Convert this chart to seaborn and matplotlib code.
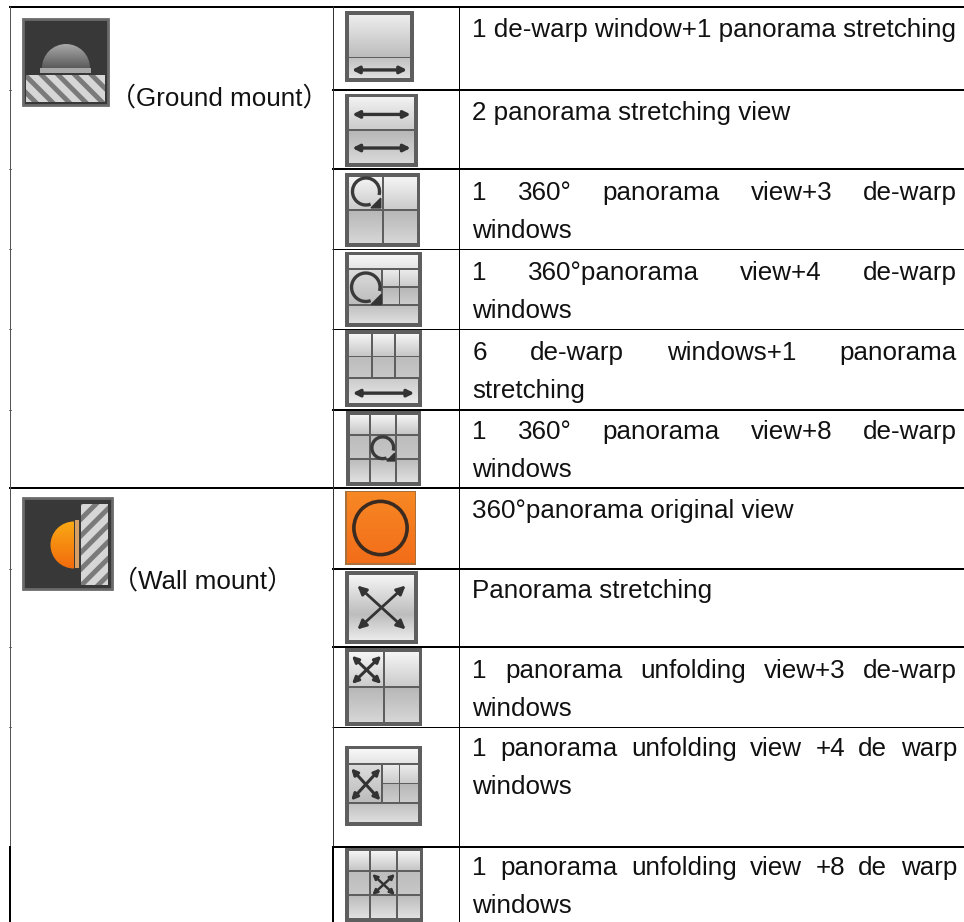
import numpy as np
import matplotlib
matplotlib.use("Agg")
import matplotlib.pyplot as plt
import matplotlib.patches as mp
import seaborn as sns

sns.set_theme(style="white")
plt.rcParams["font.family"] = ["Liberation Sans", "Noto Sans CJK SC"]
plt.rcParams["hatch.linewidth"] = 3.5

# table text
mount_labels = ["（Ground mount）", "（Wall mount）"]
view_lines = [
    ["1 de-warp window+1 panorama stretching"],
    ["2 panorama stretching view"],
    ["1 360° panorama view+3 de-warp", "windows"],
    ["1 360°panorama view+4 de-warp", "windows"],
    ["6 de-warp windows+1 panorama", "stretching"],
    ["1 360° panorama view+8 de-warp", "windows"],
    ["360°panorama original view"],
    ["Panorama stretching"],
    ["1 panorama unfolding view+3 de-warp", "windows"],
    ["1 panorama unfolding view +4 de warp", "windows"],
    ["1 panorama unfolding view +8 de warp", "windows"],
]
view_icons = ["hs", "ss", "q_c", "s_c", "g6", "g9_c", "o", "x", "q_x", "s_x", "g9_x"]

# layout, in pixels of the page
row_lines = [90, 169, 249, 329, 409, 487, 568, 646, 726, 846]
row_widths = [2, 2, 1, 1, 2, 2, 2, 2, 1, 2]
baselines = [37, 120, 200, 280, 360, 439, 518, 598, 678, 756, 875]
icon_boxes = [
    (345, 11, 414, 82), (345, 94, 418, 167), (345, 173, 420, 247),
    (345, 252, 422, 327), (345, 330, 422, 407), (346, 411, 421, 486),
    (345, 491, 416, 565), (345, 571, 418, 644), (345, 648, 422, 726),
    (345, 746, 422, 826), (345, 847, 423, 922),
]
FS = 18.75
INK = "#111111"

fig = plt.figure(figsize=(9.64, 9.22), dpi=100)
ax = fig.add_axes([0, 0, 1, 1])
ax.set_axis_off()
rend = fig.canvas.get_renderer()


def rule(x0, y0, x1, y1, px=1, color="#000000"):
    sns.lineplot(x=[x0, x1], y=[y0, y1], estimator=None, sort=False, ax=ax,
                 color=color, linewidth=px * 0.72, solid_capstyle="butt", legend=False)


def grad(x0, y0, x1, y1, top, bottom, clip=None, z=2):
    # vertical gradient, top and bottom are rgb or a gray level
    top = np.atleast_1d(top)
    bottom = np.atleast_1d(bottom)
    if top.size == 1:
        top = np.repeat(top, 3)
        bottom = np.repeat(bottom, 3)
    img = np.stack([np.linspace(top, bottom, 32)], axis=1)
    im = ax.imshow(img, extent=(x0, x1, y1, y0), aspect="auto", zorder=z,
                   interpolation="bilinear", vmin=0, vmax=1)
    if clip is not None:
        ax.add_patch(clip)
        im.set_clip_path(clip)
    return im


def arrow2(xa, ya, xb, yb, lw=2.4, ms=10, color="#333333", z=4):
    ax.annotate("", xy=(xb, yb), xytext=(xa, ya), zorder=z,
                arrowprops=dict(arrowstyle="<|-|>", color=color, lw=lw, mutation_scale=ms,
                                shrinkA=0, shrinkB=0))


def spin(cx, cy, r, lw=2.4):
    ax.add_patch(mp.Arc((cx, cy), 2 * r, 2 * r, theta1=70, theta2=375, color="#3a3a3a", lw=lw, zorder=4))
    c, s = np.cos(np.radians(50)), np.sin(np.radians(50))
    hx, hy = cx + r * c, cy + r * s
    d = r * 0.45
    ax.add_patch(mp.Polygon([(hx + d, hy + d), (hx - d * 0.6, hy + d), (hx + d, hy - d * 0.6)],
                            color="#333333", zorder=4))


def cross(x0, y0, x1, y1, lw=2.2, ms=9):
    arrow2(x0, y0, x1, y1, lw=lw, ms=ms)
    arrow2(x0, y1, x1, y0, lw=lw, ms=ms)


def tile(box, l, a, r, b, top=None, bot=None):
    # one gray tile on the dark backing of the icon, fractions of the inner area
    x0, y0, x1, y1 = box
    w, h = x1 - x0, y1 - y0
    inner = 4.0
    gap = 1.1
    if top is None:
        top = 0.96 if a < 0.05 else 0.74
    if bot is None:
        bot = 0.78 if b < 0.9 else 0.88
    grad(x0 + inner + l * (w - 2 * inner) + (gap if l > 0 else 0),
         y0 + inner + a * (h - 2 * inner) + (gap if a > 0 else 0),
         x0 + inner + r * (w - 2 * inner) - (gap if r < 1 else 0),
         y0 + inner + b * (h - 2 * inner) - (gap if b < 1 else 0), top, bot)


def grid(box, xs, ys):
    for a, b in zip(ys[:-1], ys[1:]):
        for l, r in zip(xs[:-1], xs[1:]):
            tile(box, l, a, r, b)


def draw_icon(kind, box):
    x0, y0, x1, y1 = box
    w, h = x1 - x0, y1 - y0
    fx = lambda f: x0 + f * w
    fy = lambda f: y0 + f * h
    base, _, deco = kind.partition("_")
    if kind == "o":
        ax.add_patch(mp.Rectangle((x0, y0), w, h, fc="#a8703a", ec="none", zorder=1))
        grad(x0 + 1.5, y0 + 1.5, x1 - 1.5, y1 - 1.5, (0.97, 0.53, 0.14), (0.95, 0.43, 0.10))
        ax.add_patch(mp.Circle((fx(.5), fy(.5)), w * 0.375, fill=False, ec="#3a2a20", lw=2.6, zorder=4))
        return
    ax.add_patch(mp.Rectangle((x0, y0), w, h, fc="#5e5e5e", ec="none", zorder=1))
    if kind == "hs":
        tile(box, 0, 0, 1, .68, 0.93, 0.74)
        tile(box, 0, .68, 1, 1, 0.76, 0.88)
        arrow2(fx(.1), fy(.83), fx(.9), fy(.83))
    elif kind == "ss":
        tile(box, 0, 0, 1, .5, 0.95, 0.8)
        tile(box, 0, .5, 1, 1, 0.72, 0.85)
        arrow2(fx(.1), fy(.28), fx(.9), fy(.28))
        arrow2(fx(.1), fy(.74), fx(.9), fy(.74))
    elif kind == "x":
        ax.add_patch(mp.Rectangle((x0 + 4, y0 + 4), w - 8, h - 8, fc="#cccccc", ec="none", zorder=1))
        grad(x0 + 4, y0 + 4, x1 - 4, fy(.6), 0.96, 0.74)
        grad(x0 + 4, fy(.6), x1 - 4, y1 - 4, 0.74, 0.92)
        cross(fx(.17), fy(.2), fx(.83), fy(.8), lw=2.0, ms=13)
    elif base == "q":
        tile(box, 0, 0, .5, .5, 0.96, 0.8)
        tile(box, .5, 0, 1, .5, 0.96, 0.8)
        tile(box, 0, .5, .5, 1, 0.72, 0.84)
        tile(box, .5, .5, 1, 1, 0.72, 0.84)
    elif base == "s":
        tile(box, 0, 0, 1, .2, 0.97, 0.9)
        tile(box, 0, .2, .47, .74, 0.86, 0.74)
        tile(box, .47, .2, .73, .47, 0.92, 0.8)
        tile(box, .73, .2, 1, .47, 0.92, 0.8)
        tile(box, .47, .47, .73, .74, 0.72, 0.8)
        tile(box, .73, .47, 1, .74, 0.72, 0.8)
        tile(box, 0, .74, 1, 1, 0.76, 0.87)
    elif base == "g6":
        grid(box, [0, .33, .66, 1], [0, .33, .64])
        tile(box, 0, .64, 1, 1, 0.8, 0.92)
        arrow2(fx(.1), fy(.82), fx(.9), fy(.82))
    elif base == "g9":
        grid(box, [0, .3, .68, 1], [0, .3, .66, 1])
    if deco == "c":
        if base == "q":
            spin(fx(.28), fy(.25), w * 0.18)
        elif base == "s":
            spin(fx(.27), fy(.47), w * 0.185)
        else:
            spin(fx(.49), fy(.49), w * 0.145)
    elif deco == "x":
        if base == "q":
            cross(fx(.09), fy(.1), fx(.47), fy(.46))
        elif base == "s":
            cross(fx(.08), fy(.28), fx(.46), fy(.68))
        else:
            cross(fx(.35), fy(.36), fx(.64), fy(.64), lw=1.8, ms=7)


def draw_ground(box):
    x0, y0, x1, y1 = box
    ax.add_patch(mp.Rectangle((x0, y0), x1 - x0, y1 - y0, fc="#383838", ec="#6a6a6a", lw=2, zorder=1))
    dome = mp.Wedge((66, 68), 24, 180, 360, fc="none", ec="none", zorder=2)
    grad(40, 44, 92, 68, 0.66, 0.36, clip=dome)
    ax.add_patch(mp.Rectangle((40, 68.5), 51, 4.5, fc="#a8a8a8", ec="none", zorder=3))
    ax.add_patch(mp.Rectangle((26, 75), 79, 27, fc="#d6d6d6", ec="#7a7a7a", lw=0, hatch="\\\\", zorder=3))


def draw_wall(box):
    x0, y0, x1, y1 = box
    ax.add_patch(mp.Rectangle((x0, y0), x1 - x0, y1 - y0, fc="#383838", ec="#6a6a6a", lw=2, zorder=1))
    ball = mp.Wedge((74, 545), 23.5, 90, 270, fc="none", ec="none", zorder=2)
    grad(49, 521, 75, 569, (0.98, 0.66, 0.08), (0.95, 0.42, 0.05), clip=ball)
    ax.add_patch(mp.Rectangle((74.5, 520), 4.5, 48, fc="#d9a066", ec="none", zorder=3))
    ax.add_patch(mp.Rectangle((81, 504), 27, 81, fc="#d6d6d6", ec="#7a7a7a", lw=0, hatch="//", zorder=3))


def justified(words, x0, x1, y):
    items = [ax.text(0, y, w, fontsize=FS, color=INK, va="baseline", ha="left", zorder=5) for w in words]
    widths = [t.get_window_extent(rend).width for t in items]
    gap = (x1 - x0 - sum(widths)) / (len(words) - 1)
    x = x0
    for t, wd in zip(items, widths):
        t.set_x(x)
        x += wd + gap


# grid
rule(9, 7, 964, 7, 2)
rule(9, 487.5, 964, 487.5, 2)
for yy, px in zip(row_lines, row_widths):
    if yy != 487:
        rule(332, yy + 0.5, 964, yy + 0.5, px)
    if yy < 846 and yy != 487:
        rule(9, yy + 0.5, 11, yy + 0.5, 1)
rule(9.5, 6, 9.5, 846, 1, "#555555")
rule(10, 846, 10, 922, 2)
rule(332.5, 6, 332.5, 846, 1, "#333333")
rule(333, 846, 333, 922, 2)
rule(458.5, 6, 458.5, 922, 1)

# left column
draw_ground((23, 19, 108, 105))
draw_wall((23, 498, 112, 589))
ax.text(110, 106, mount_labels[0], fontsize=FS, color=INK, va="baseline", zorder=5)
ax.text(112, 588, mount_labels[1], fontsize=FS, color=INK, va="baseline", zorder=5)

# icons and description
for kind, box, base_y, lines in zip(view_icons, icon_boxes, baselines, view_lines):
    draw_icon(kind, box)
    if len(lines) == 2:
        justified(lines[0].split(" "), 472.5, 957, base_y)
        ax.text(472, base_y + 38, lines[1], fontsize=FS, color=INK, va="baseline", zorder=5)
    else:
        ax.text(472, base_y, lines[0], fontsize=FS, color=INK, va="baseline", zorder=5)

ax.set_xlim(0, 964)
ax.set_ylim(922, 0)
fig.savefig("out.png", dpi=100, facecolor="white")
